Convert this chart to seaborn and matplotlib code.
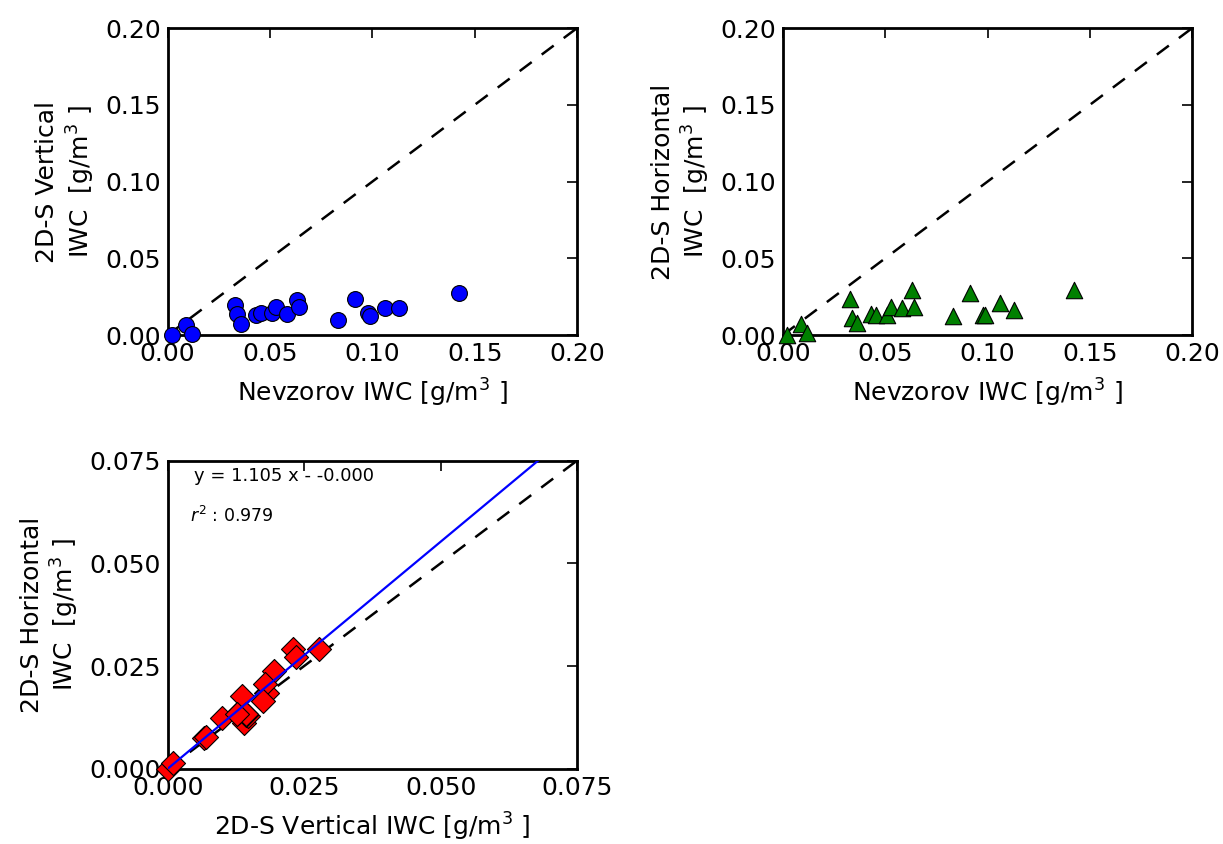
import numpy as np
import pandas as pd
import matplotlib
matplotlib.use("Agg")
import matplotlib.pyplot as plt
import seaborn as sns

# IWC values, g/m^3
nevzorov_iwc = [0.002, 0.0088, 0.012, 0.033, 0.034, 0.036, 0.043, 0.0457, 0.051, 0.053,
                0.0584, 0.0631, 0.064, 0.083, 0.0915, 0.0977, 0.099, 0.106, 0.1128, 0.1424]
vertical_iwc = [0.000, 0.0066, 0.0010, 0.0194, 0.0140, 0.0070, 0.0131, 0.0147, 0.0143, 0.0180,
                0.0137, 0.0229, 0.0182, 0.0100, 0.0235, 0.0143, 0.0127, 0.0178, 0.0174, 0.0277]
horizontal_iwc = [0.000, 0.0074, 0.0015, 0.0238, 0.0112, 0.0077, 0.0139, 0.0128, 0.0131, 0.0185,
                  0.0176, 0.0291, 0.0184, 0.0124, 0.0273, 0.0134, 0.0134, 0.0207, 0.0165, 0.0291]

fit_slope = 1.105
fit_intercept = 0.0
fit_r2 = 0.979

top_ticks = [0.00, 0.05, 0.10, 0.15, 0.20]
bottom_ticks = [0.000, 0.025, 0.050, 0.075]

sns.set_style("white")
plt.rcParams.update({
    "font.family": ["DejaVu Sans"],
    "text.color": "black", "axes.labelcolor": "black",
    "xtick.color": "black", "ytick.color": "black",
    "xtick.direction": "in", "ytick.direction": "in",
    "xtick.top": True, "ytick.right": True,
    "xtick.major.size": 7, "ytick.major.size": 7,
    "xtick.major.width": 1.2, "ytick.major.width": 1.2,
    "axes.linewidth": 2, "axes.edgecolor": "black",
})

df = pd.DataFrame({"nev": nevzorov_iwc, "vert": vertical_iwc, "horiz": horizontal_iwc})

fig = plt.figure(figsize=(12.23, 8.44), dpi=100)
ax1 = fig.add_axes([0.1371, 0.603, 0.3347, 0.3637])
ax2 = fig.add_axes([0.6401, 0.603, 0.3347, 0.3637])
ax3 = fig.add_axes([0.1371, 0.0892, 0.3347, 0.3650])


def style_axis(ax, ticks, fmt, xlabel, ylabel):
    ax.set_xlim(ticks[0], ticks[-1])
    ax.set_ylim(ticks[0], ticks[-1])
    ax.set_xticks(ticks)
    ax.set_yticks(ticks)
    ax.set_xticklabels([fmt.format(t) for t in ticks], fontsize=18)
    ax.set_yticklabels([fmt.format(t) for t in ticks], fontsize=18)
    ax.set_xlabel(xlabel, fontsize=18, labelpad=8)
    ax.set_ylabel(ylabel, fontsize=18, labelpad=6)
    ax.tick_params(axis="both", pad=5, colors="black")
    for s in ax.spines.values():
        s.set_visible(True)
        s.set_color("black")


# Nevzorov vs 2D-S vertical
ax1.plot([top_ticks[0], top_ticks[-1]], [top_ticks[0], top_ticks[-1]], "k--", lw=1.8, dashes=(6, 5))
sns.scatterplot(data=df, x="nev", y="vert", ax=ax1, marker="o", s=130, color="#0000ff",
                edgecolor="black", linewidth=0.8, zorder=3, clip_on=False)
style_axis(ax1, top_ticks, "{:.2f}", "Nevzorov IWC [g/m$^3$ ]", "2D-S Vertical\nIWC  [g/m$^3$ ]")

# Nevzorov vs 2D-S horizontal
ax2.plot([top_ticks[0], top_ticks[-1]], [top_ticks[0], top_ticks[-1]], "k--", lw=1.8, dashes=(6, 5))
sns.scatterplot(data=df, x="nev", y="horiz", ax=ax2, marker="^", s=140, color="#008000",
                edgecolor="black", linewidth=0.8, zorder=3, clip_on=False)
style_axis(ax2, top_ticks, "{:.2f}", "Nevzorov IWC [g/m$^3$ ]", "2D-S Horizontal\nIWC  [g/m$^3$ ]")

# 2D-S vertical vs horizontal with fit
ax3.plot([bottom_ticks[0], bottom_ticks[-1]], [bottom_ticks[0], bottom_ticks[-1]], "k--", lw=1.8, dashes=(6, 5))
sns.scatterplot(data=df, x="vert", y="horiz", ax=ax3, marker="D", s=150, color="#ff0000",
                edgecolor="black", linewidth=0.8, zorder=3, clip_on=False)
fit_x = np.array([bottom_ticks[0], bottom_ticks[-1]])
ax3.plot(fit_x, fit_slope * fit_x + fit_intercept, color="#0000ff", lw=1.6, zorder=4)
style_axis(ax3, bottom_ticks, "{:.3f}", "2D-S Vertical IWC [g/m$^3$ ]", "2D-S Horizontal\nIWC  [g/m$^3$ ]")
ax3.text(0.065, 0.95, "y = %.3f x - %.3f" % (fit_slope, -fit_intercept), transform=ax3.transAxes,
         fontsize=13, va="center")
ax3.text(0.055, 0.82, "$r^2$ : %.3f" % fit_r2, transform=ax3.transAxes, fontsize=12.5, va="center")

fig.savefig("out.png", dpi=100)
plt.close()
